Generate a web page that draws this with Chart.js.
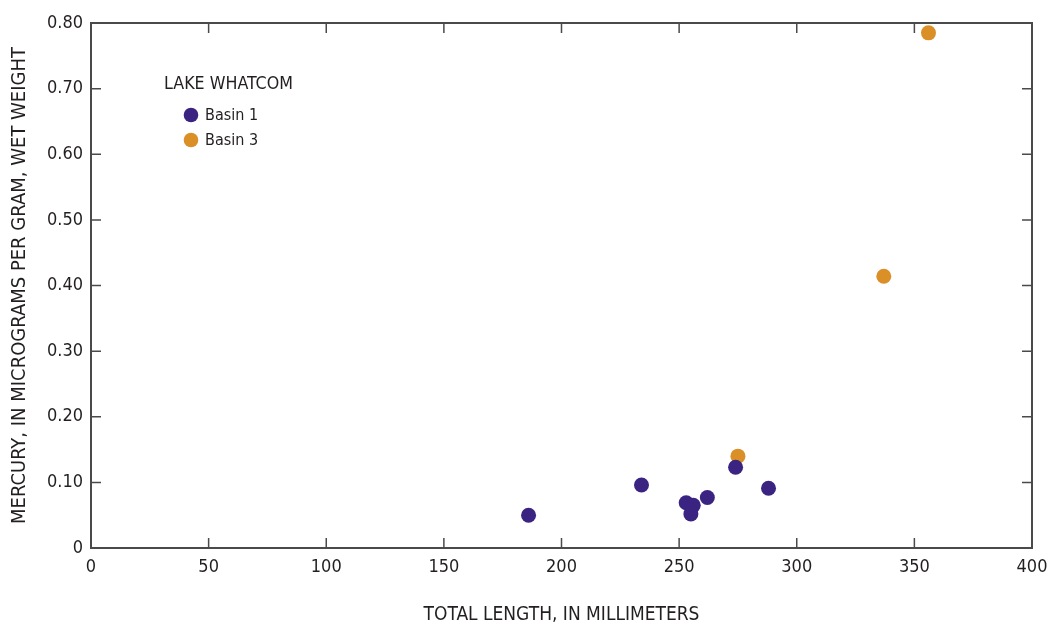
<!DOCTYPE html>
<html>
<head>
<meta charset="utf-8">
<script src="https://cdn.jsdelivr.net/npm/chart.js@4.4.1/dist/chart.umd.min.js"></script>
<style>
  html, body { margin: 0; padding: 0; background: #ffffff; }
  #wrap { width: 1049px; height: 629px; }
</style>
</head>
<body>
<div id="wrap"><canvas id="c" width="1049" height="629"></canvas></div>
<script>
// Total length (mm) and mercury (µg/g wet weight) for fish from two basins
const basin1Length = [186, 234, 253, 256, 255, 262, 274, 288];
const basin1Mercury = [0.050, 0.096, 0.069, 0.065, 0.052, 0.077, 0.123, 0.091];
const basin3Length = [275, 337, 356];
const basin3Mercury = [0.140, 0.414, 0.785];

const seriesNames = ['Basin 1', 'Basin 3'];
const seriesColors = ['#3b2382', '#db8f27'];
const legendTitle = 'LAKE WHATCOM';
const xTitle = 'TOTAL LENGTH, IN MILLIMETERS';
const yTitle = 'MERCURY, IN MICROGRAMS PER GRAM, WET WEIGHT';

const FONT = '"Liberation Sans Narrow", "DejaVu Sans Condensed", "Roboto", sans-serif';
const INK = '#231f20';
const AXIS = '#4a4a4a';

const toPoints = (xs, ys) => xs.map((x, i) => ({ x: x, y: ys[i] }));

// Frame on the top/right edges plus inward-pointing tick marks on all four sides
const framePlugin = {
  id: 'frame',
  afterDatasetsDraw(chart) {
    const { ctx, chartArea: a, scales } = chart;
    ctx.save();
    ctx.strokeStyle = AXIS;
    ctx.lineWidth = 2;
    ctx.beginPath();
    ctx.moveTo(a.left, a.top); ctx.lineTo(a.right, a.top); ctx.lineTo(a.right, a.bottom);
    ctx.stroke();
    const len = 10;
    ctx.lineWidth = 1.5;
    ctx.beginPath();
    scales.x.ticks.forEach(t => {
      const px = scales.x.getPixelForValue(t.value);
      if (px <= a.left + 1 || px >= a.right - 1) return;
      ctx.moveTo(px, a.bottom); ctx.lineTo(px, a.bottom - len);
      ctx.moveTo(px, a.top); ctx.lineTo(px, a.top + len);
    });
    scales.y.ticks.forEach(t => {
      const py = scales.y.getPixelForValue(t.value);
      if (py <= a.top + 1 || py >= a.bottom - 1) return;
      ctx.moveTo(a.left, py); ctx.lineTo(a.left + len, py);
      ctx.moveTo(a.right, py); ctx.lineTo(a.right - len, py);
    });
    ctx.stroke();
    ctx.restore();
  }
};

// Legend block drawn inside the plot area, from the dataset labels and colours
const legendPlugin = {
  id: 'basinLegend',
  afterDraw(chart) {
    const { ctx } = chart;
    ctx.save();
    ctx.fillStyle = INK;
    ctx.font = '17.7px ' + FONT;
    ctx.textBaseline = 'middle';
    ctx.textAlign = 'left';
    ctx.fillText(legendTitle, 164, 84);
    chart.data.datasets.forEach((ds, i) => {
      const y = 115 + i * 25;
      ctx.beginPath();
      ctx.fillStyle = ds.backgroundColor;
      ctx.arc(191, y, 7.3, 0, Math.PI * 2);
      ctx.fill();
      ctx.fillStyle = INK;
      ctx.font = '16px ' + FONT;
      ctx.fillText(ds.label, 205, y + 1);
    });
    ctx.restore();
  }
};

new Chart(document.getElementById('c'), {
  type: 'scatter',
  data: {
    datasets: [
      { label: seriesNames[0], data: toPoints(basin1Length, basin1Mercury),
        backgroundColor: seriesColors[0], borderColor: seriesColors[0],
        pointRadius: 7.5, pointHoverRadius: 7.5, borderWidth: 0 },
      { label: seriesNames[1], data: toPoints(basin3Length, basin3Mercury),
        backgroundColor: seriesColors[1], borderColor: seriesColors[1],
        pointRadius: 7.5, pointHoverRadius: 7.5, borderWidth: 0 }
    ]
  },
  options: {
    responsive: false,
    animation: false,
    layout: { padding: { left: 0, top: 23, right: 17, bottom: 0 } },
    plugins: { legend: { display: false }, tooltip: { enabled: false } },
    scales: {
      x: {
        type: 'linear', min: 0, max: 400,
        afterFit(s) { s.height = 81; s.paddingLeft = 0; s.paddingRight = 0; },
        grid: { display: false, drawTicks: false },
        border: { display: true, color: AXIS, width: 2 },
        ticks: { stepSize: 50, color: INK, padding: 9, font: { family: FONT, size: 18 } },
        title: { display: true, text: xTitle, color: INK, font: { family: FONT, size: 19 },
                 padding: { top: 0, bottom: 3 } }
      },
      y: {
        type: 'linear', min: 0, max: 0.8,
        afterFit(s) { s.width = 91; s.paddingTop = 0; s.paddingBottom = 0; },
        grid: { display: false, drawTicks: false },
        border: { display: true, color: AXIS, width: 2 },
        ticks: { stepSize: 0.1, color: INK, padding: 8, font: { family: FONT, size: 18 },
                 callback: v => (Math.abs(v) < 1e-9 ? '0' : Number(v).toFixed(2)) },
        title: { display: true, text: yTitle, color: INK, font: { family: FONT, size: 20 },
                 padding: { top: 8, bottom: 0 } }
      }
    }
  },
  plugins: [framePlugin, legendPlugin]
});
</script>
</body>
</html>
